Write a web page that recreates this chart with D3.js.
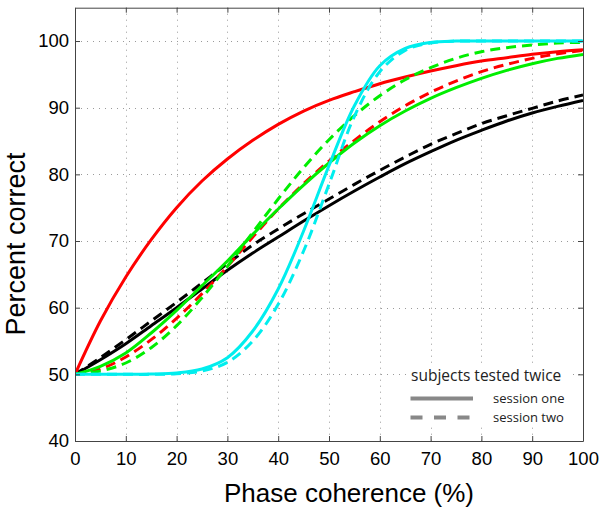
<!DOCTYPE html>
<html><head><meta charset="utf-8">
<script src="https://cdn.jsdelivr.net/npm/d3@7/dist/d3.min.js"></script>
<style>
body{margin:0;background:#fff}
svg{display:block}
text{font-family:"Liberation Sans",Arial,Helvetica,sans-serif}
</style>
</head><body>
<svg id="chart" width="600" height="516"></svg>
<script>
// ---- data ----
const coherence = [0,5,10,15,20,25,30,35,40,45,50,55,60,65,70,75,80,85,90,95,100];
const blackOne = [50,52.2,54.6,57.3,60,62.8,65.6,68.2,70.6,73,75.3,77.5,79.6,81.6,83.4,85.1,86.6,88,89.2,90.2,91.1];
const blackTwo = [50,52.5,55.2,58,60.8,63.7,66.6,69.4,71.8,74.1,76.3,78.5,80.6,82.6,84.5,86.1,87.6,88.8,89.9,91,91.9];
const redOne   = [50,58,64.6,70.2,75,79,82.3,85.1,87.5,89.5,91.1,92.4,93.6,94.6,95.5,96.3,97,97.5,98,98.4,98.7];
const redTwo   = [50,50.8,52.6,55.2,58.4,62.1,66.2,70.6,74.8,78.6,82,85.1,87.9,90.3,92.3,94,95.4,96.5,97.4,98.1,98.6];
const greenOne = [50,51.2,53.2,56.2,59.6,63.3,67,71,74.8,78.4,81.7,84.7,87.3,89.5,91.4,93,94.4,95.6,96.6,97.4,98];
const greenTwo = [50,50.5,51.7,54,57.3,61.5,66.2,71.3,76.3,81,85.2,88.8,91.8,94.2,96,97.4,98.4,99,99.4,99.7,99.8];
const cyanOne  = [50,50,50,50.05,50.2,50.8,52.5,56.5,62.8,71.5,81.3,90.3,96.3,98.9,99.8,100,100,100,100,100,100];
const cyanTwo  = [50,50,50,50,50.1,50.5,51.8,55,60.5,68.5,78.5,88.7,95.4,98.6,99.7,100,100,100,100,100,100];
const xTicks = [0,10,20,30,40,50,60,70,80,90,100];
const yTicks = [40,50,60,70,80,90,100];
const legendTitle = "subjects tested twice";
const legendLabels = ["session one","session two"];

const series = [
  {values: blackOne, color: "#000000", dashed: false},
  {values: blackTwo, color: "#000000", dashed: true},
  {values: redOne,   color: "#ff0000", dashed: false},
  {values: redTwo,   color: "#ff0000", dashed: true},
  {values: greenOne, color: "#00ee00", dashed: false},
  {values: greenTwo, color: "#00ee00", dashed: true},
  {values: cyanOne,  color: "#00eeee", dashed: false},
  {values: cyanTwo,  color: "#00eeee", dashed: true}
];

// ---- layout ----
const L = 75, R = 583, T = 7.7, B = 441;
const x = d3.scaleLinear().domain([0,100]).range([L,R]);
const y = d3.scaleLinear().domain([40,105]).range([B,T]);
const svg = d3.select("#chart");

// grid
const grid = svg.append("g").attr("stroke","#9a9a9a").attr("stroke-width",1).attr("stroke-dasharray","1,5");
grid.selectAll("line.v").data(xTicks.filter(d=>d>0&&d<100)).join("line")
  .attr("x1",d=>Math.round(x(d))+0.5).attr("x2",d=>Math.round(x(d))+0.5).attr("y1",T).attr("y2",B);
grid.selectAll("line.h").data(yTicks.filter(d=>d>40)).join("line")
  .attr("y1",d=>Math.round(y(d))+0.5).attr("y2",d=>Math.round(y(d))+0.5).attr("x1",L).attr("x2",R);

// curves
svg.append("clipPath").attr("id","clip").append("rect").attr("x",L).attr("y",T).attr("width",R-L).attr("height",B-T);
const line = d3.line().x((d,i)=>x(coherence[i])).y(d=>y(d)).curve(d3.curveCatmullRom.alpha(0.5));
svg.append("g").attr("clip-path","url(#clip)").selectAll("path").data(series).join("path")
  .attr("d",d=>line(d.values)).attr("fill","none").attr("stroke",d=>d.color)
  .attr("stroke-width",3).attr("stroke-dasharray",d=>d.dashed?"10,6":null);

// axes
const axisColor = "#444";
function styleAxis(g){
  g.select(".domain").attr("stroke",axisColor);
  g.selectAll(".tick line").attr("stroke",axisColor);
  g.selectAll(".tick text").attr("fill","#000").style("font-size","18.5px");
}
svg.append("g").attr("transform",`translate(0,${B})`)
  .call(d3.axisBottom(x).tickValues(xTicks).tickSizeInner(-5).tickSizeOuter(0).tickPadding(11))
  .call(styleAxis);
svg.append("g").attr("transform",`translate(${L},0)`)
  .call(d3.axisLeft(y).tickValues(yTicks).tickSizeInner(-5).tickSizeOuter(0).tickPadding(6))
  .call(styleAxis);
svg.append("g").attr("transform",`translate(0,${T})`)
  .call(d3.axisTop(x).tickValues(xTicks).tickSizeInner(-5).tickSizeOuter(0).tickFormat(""))
  .call(styleAxis);
svg.append("g").attr("transform",`translate(${R},0)`)
  .call(d3.axisRight(y).tickValues(yTicks).tickSizeInner(-5).tickSizeOuter(0).tickFormat(""))
  .call(styleAxis);

// axis titles
svg.append("text").attr("x",349).attr("y",501.5).attr("text-anchor","middle")
  .style("font-size","26px").text("Phase coherence (%)");
svg.append("text").attr("transform","translate(25,244) rotate(-90)").attr("text-anchor","middle")
  .style("font-size","27px").text("Percent correct");

// legend
const lg = svg.append("g");
lg.append("rect").attr("x",407).attr("y",364).attr("width",162).attr("height",62).attr("fill","#fff");
lg.append("text").attr("x",411).attr("y",380.5).style("font-size","15.5px").attr("fill","#222")
  .style("font-family","'Open Sans',sans-serif").text(legendTitle);
legendLabels.forEach((lab,i)=>{
  const yy = 398.5 + i*19;
  lg.append("line").attr("x1",410.5).attr("x2",473).attr("y1",yy).attr("y2",yy)
    .attr("stroke","#888").attr("stroke-width",4).attr("stroke-dasharray",i?"12,11.5":null);
  lg.append("text").attr("x",493).attr("y",yy+4).style("font-size","13px").attr("fill","#222")
    .style("font-family","'Open Sans',sans-serif").text(lab);
});
</script>
</body></html>
